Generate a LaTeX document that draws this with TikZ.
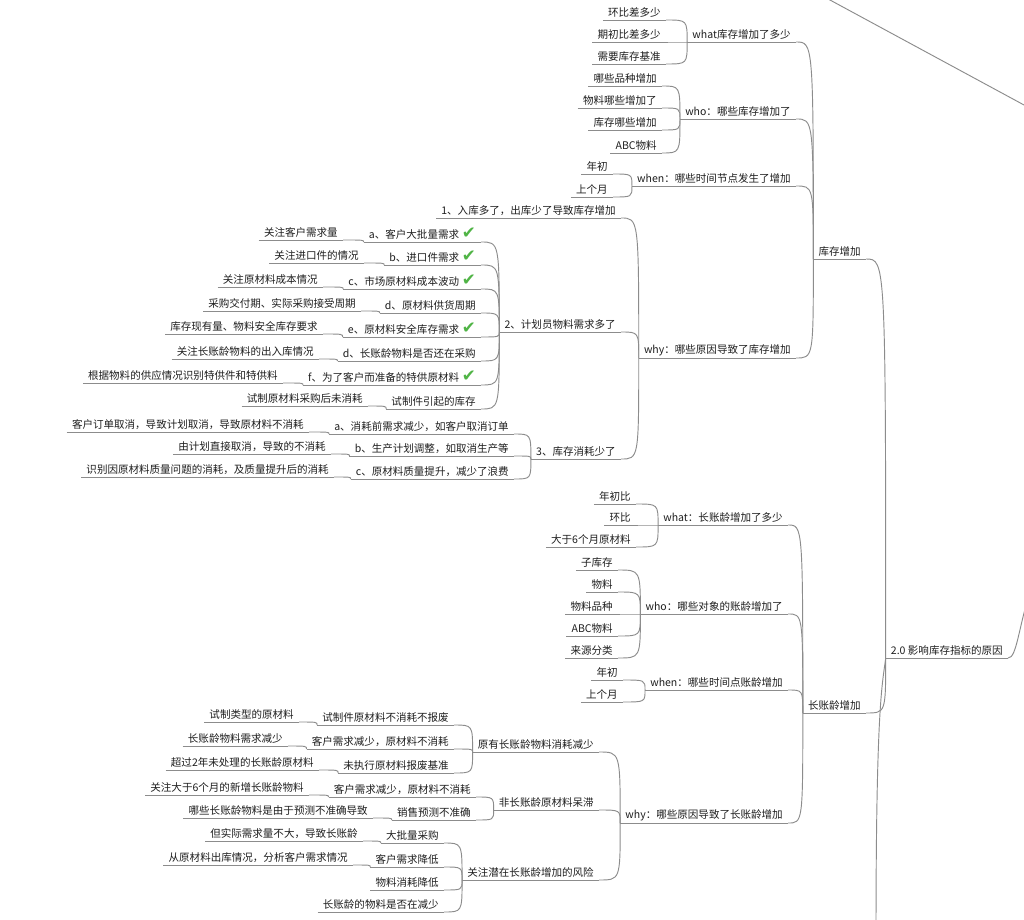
\documentclass[tikz,border=0pt]{standalone}
\usepackage{fontspec}
\setmainfont{Noto Sans CJK SC}
\newfontfamily\cjkfont{Noto Sans CJK SC}
\newfontfamily\symfont{DejaVu Sans}
\definecolor{lc}{RGB}{140,140,140}
\definecolor{txt}{RGB}{30,30,30}
\definecolor{chk}{RGB}{80,180,70}
\newcommand\okmark{\hspace{2pt}{\symfont\fontsize{12.5pt}{12.5pt}\selectfont\textcolor{chk}{✔}}}
\begin{document}
\begin{tikzpicture}[x=0.75pt,y=-0.75pt,
  ul/.style={draw=lc, line width=0.7pt},
  nd/.style={anchor=south east, inner xsep=3.75pt, inner ysep=1.6pt, text=txt,
    font=\cjkfont\fontsize{7.9pt}{9pt}\selectfont,
    append after command={(\tikzlastnode.south west) edge[ul] (\tikzlastnode.south east)}},
  cn/.style={draw=lc, line width=0.7pt,
    to path={.. controls (\tikztostart -| \tikztotarget) and (\tikztostart -| \tikztotarget) .. (\tikztotarget)}}
]
\useasboundingbox (0,0) rectangle (1024,920);
\fill[white] (0,0) rectangle (1024,920);
\clip (0,0) rectangle (1024,920);

% off-screen connector ends
\coordinate (offtopA) at (820,-5.4);
\coordinate (offtopB) at (1034,110.4);
\coordinate (offright) at (1032,585);
\coordinate (offbottom) at (876,935);

% top level
\node[nd] (root) at (1008,658) {2.0 影响库存指标的原因};
\node[nd] (kc) at (866,259) {库存增加};
\node[nd] (czl) at (866,713) {长账龄增加};

% 库存增加 branch
\node[nd] (k1) at (796,42) {what库存增加了多少};
\node[nd] (k2) at (796,119) {who：哪些库存增加了};
\node[nd] (k3) at (796,186) {when：哪些时间节点发生了增加};
\node[nd] (k4) at (796,358) {why：哪些原因导致了库存增加};

\node[nd] (k1a) at (666,20) {环比差多少};
\node[nd] (k1b) at (666,42) {期初比差多少};
\node[nd] (k1c) at (666,64) {需要库存基准};

\node[nd] (k2a) at (662,86) {哪些品种增加};
\node[nd] (k2b) at (662,108) {物料哪些增加了};
\node[nd] (k2c) at (662,130) {库存哪些增加};
\node[nd] (k2d) at (662,153) {ABC物料};

\node[nd] (k3a) at (613,174) {年初};
\node[nd] (k3b) at (613,197) {上个月};

\node[nd] (w1) at (621,218) {1、入库多了，出库少了导致库存增加};
\node[nd] (w2) at (621,332) {2、计划员物料需求多了};
\node[nd] (w3) at (621,459) {3、库存消耗少了};

\node[nd] (a1) at (481,242) {a、客户大批量需求\okmark};
\node[nd] (a2) at (481,265) {b、进口件需求\okmark};
\node[nd] (a3) at (481,289) {c、市场原材料成本波动\okmark};
\node[nd] (a4) at (481,313) {d、原材料供货周期};
\node[nd] (a5) at (481,337) {e、原材料安全库存需求\okmark};
\node[nd] (a6) at (481,361) {d、长账龄物料是否还在采购};
\node[nd] (a7) at (481,385) {f、为了客户而准备的特供原材料\okmark};
\node[nd] (a8) at (481,409) {试制件引起的库存};

\node[nd] (g1) at (343,240) {关注客户需求量};
\node[nd] (g2) at (364,263) {关注进口件的情况};
\node[nd] (g3) at (323,287) {关注原材料成本情况};
\node[nd] (g4) at (361,311) {采购交付期、实际采购接受周期};
\node[nd] (g5) at (323,334) {库存现有量、物料安全库存要求};
\node[nd] (g6) at (319,359) {关注长账龄物料的出入库情况};
\node[nd] (g7) at (283,383) {根据物料的供应情况识别特供件和特供料};
\node[nd] (g8) at (368,406) {试制原材料采购后未消耗};

\node[nd] (b1) at (514,434) {a、消耗前需求减少，如客户取消订单};
\node[nd] (b2) at (514,456) {b、生产计划调整，如取消生产等};
\node[nd] (b3) at (514,479) {c、原材料质量提升，减少了浪费};

\node[nd] (h1) at (309,432) {客户订单取消，导致计划取消，导致原材料不消耗};
\node[nd] (h2) at (331,454) {由计划直接取消，导致的不消耗};
\node[nd] (h3) at (334,477) {识别因原材料质量问题的消耗，及质量提升后的消耗};

% 长账龄增加 branch
\node[nd] (l1) at (788,525) {what：长账龄增加了多少};
\node[nd] (l2) at (788,614) {who：哪些对象的账龄增加了};
\node[nd] (l3) at (788,690) {when：哪些时间点账龄增加};
\node[nd] (l4) at (788,823) {why：哪些原因导致了长账龄增加};

\node[nd] (l1a) at (636,504) {年初比};
\node[nd] (l1b) at (636,525) {环比};
\node[nd] (l1c) at (636,547) {大于6个月原材料};

\node[nd] (l2a) at (618,570) {子库存};
\node[nd] (l2b) at (618,592) {物料};
\node[nd] (l2c) at (618,614) {物料品种};
\node[nd] (l2d) at (618,636) {ABC物料};
\node[nd] (l2e) at (618,658) {来源分类};

\node[nd] (l3a) at (623,680) {年初};
\node[nd] (l3b) at (623,702) {上个月};

\node[nd] (m1) at (599,752) {原有长账龄物料消耗减少};
\node[nd] (m2) at (599,810) {非长账龄原材料呆滞};
\node[nd] (m3) at (599,880) {关注潜在长账龄增加的风险};

\node[nd] (n1) at (454,725) {试制件原材料不消耗不报废};
\node[nd] (n2) at (454,749) {客户需求减少，原材料不消耗};
\node[nd] (n3) at (454,773) {未执行原材料报废基准};
\node[nd] (n1g) at (299,722) {试制类型的原材料};
\node[nd] (n2g) at (288,746) {长账龄物料需求减少};
\node[nd] (n3g) at (319,770) {超过2年未处理的长账龄原材料};

\node[nd] (o1) at (476,797) {客户需求减少，原材料不消耗};
\node[nd] (o2) at (476,820) {销售预测不准确};
\node[nd] (o1g) at (309,795) {关注大于6个月的新增长账龄物料};
\node[nd] (o2g) at (373,818) {哪些长账龄物料是由于预测不准确导致};

\node[nd] (p1) at (444,843) {大批量采购};
\node[nd] (p2) at (444,867) {客户需求降低};
\node[nd] (p3) at (444,890) {物料消耗降低};
\node[nd] (p4) at (444,912) {长账龄的物料是否在减少};
\node[nd] (p1g) at (363,841) {但实际需求量不大，导致长账龄};
\node[nd] (p2g) at (353,865) {从原材料出库情况，分析客户需求情况};

% connectors
\draw[ul] (offtopA) -- (offtopB);
\draw[ul] (root.south east) .. controls +(9,0) and (1018,628) .. (offright);
\draw[ul] (root.south west) .. controls +(-3,25) and (876,700) .. (offbottom);

\foreach \c/\p in {kc/root, czl/root,
  k1/kc, k2/kc, k3/kc, k4/kc,
  k1a/k1, k1b/k1, k1c/k1,
  k2a/k2, k2b/k2, k2c/k2, k2d/k2,
  k3a/k3, k3b/k3,
  w1/k4, w2/k4, w3/k4,
  a1/w2, a2/w2, a3/w2, a4/w2, a5/w2, a6/w2, a7/w2, a8/w2,
  g1/a1, g2/a2, g3/a3, g4/a4, g5/a5, g6/a6, g7/a7, g8/a8,
  b1/w3, b2/w3, b3/w3, h1/b1, h2/b2, h3/b3,
  l1/czl, l2/czl, l3/czl, l4/czl,
  l1a/l1, l1b/l1, l1c/l1,
  l2a/l2, l2b/l2, l2c/l2, l2d/l2, l2e/l2,
  l3a/l3, l3b/l3,
  m1/l4, m2/l4, m3/l4,
  n1/m1, n2/m1, n3/m1, n1g/n1, n2g/n2, n3g/n3,
  o1/m2, o2/m2, o1g/o1, o2g/o2,
  p1/m3, p2/m3, p3/m3, p4/m3, p1g/p1, p2g/p2}
  \draw[cn] (\c.south east) to (\p.south west);
\end{tikzpicture}
\end{document}
